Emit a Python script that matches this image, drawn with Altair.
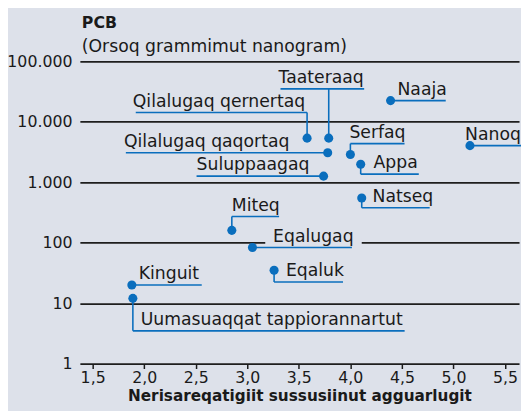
import altair as alt
import pandas as pd

# ---- data ----
names = ["Kinguit", "Uumasuaqqat tappiorannartut", "Eqaluk", "Miteq", "Eqalugaq",
         "Natseq", "Suluppaagaq", "Appa", "Serfaq", "Qilalugaq qaqortaq",
         "Qilalugaq qernertaq", "Taateraaq", "Naaja", "Nanoq"]
trophic = [1.88, 1.89, 3.26, 2.85, 3.05, 4.11, 3.74, 4.10, 4.00, 3.78, 3.58, 3.79, 4.39, 5.16]
pcb = [20, 12, 35, 160, 83, 550, 1260, 1980, 2880, 3070, 5360, 5360, 22400, 4030]

x_ticks = [1.5, 2.0, 2.5, 3.0, 3.5, 4.0, 4.5, 5.0, 5.5]
y_ticks = [1, 10, 100, 1000, 10000, 100000]

title_main = "PCB"
title_sub = "(Orsoq grammimut nanogram)"
x_title = "Nerisareqatigiit sussusiinut agguarlugit"

# ---- annotation layout (pixels relative to each point) ----
# (vertical leg, + = down; underline start; underline end; text left)
layout = {
    "Kinguit": (0, 0, 71, 7),
    "Uumasuaqqat tappiorannartut": (33, 0, 276, 8),
    "Eqaluk": (12, 0, 70, 12),
    "Miteq": (-14, 0, 48, 0),
    "Eqalugaq": (0, 0, 101, 21),
    "Natseq": (10, 0, 69, 11),
    "Suluppaagaq": (0, -129, 0, -129),
    "Appa": (10, 0, 59, 13),
    "Serfaq": (-11, 0, 55, -1),
    "Qilalugaq qaqortaq": (0, -205, 0, -207),
    "Qilalugaq qernertaq": (-26, -174, 0, -177),
    "Taateraaq": (-50, -49, 36, -51),
    "Naaja": (0, 0, 56, 7),
    "Nanoq": (0, 0, 52, -5),
}
knockout = {"Eqalugaq": (13, 111, -10, -3)}

W, H = 446, 307
X0, X1 = 1.376, 5.636
Y0, Y1 = 1, 100000
px_x = W / (X1 - X0)
px_dec = H / 5.0

def xo(x, d):
    return x + d / px_x

def yo(y, d):
    return y * 10 ** (-d / px_dec)

BG = "#dde1ea"
BLUE = "#0a6ebd"
INK = "#1a1a1a"
FONT = "DejaVu Sans"

pts = pd.DataFrame({"name": names, "x": trophic, "y": pcb})

vrows, hrows, trows, krows = [], [], [], []
for n, x, y in zip(names, trophic, pcb):
    v, u0, u1, tx = layout[n]
    ey = yo(y, v)
    if v != 0:
        vrows.append({"x": x, "y": y, "y2": ey})
    hrows.append({"x": xo(x, u0), "x2": xo(x, u1), "y": ey})
    trows.append({"x": xo(x, tx), "y": ey, "t": n})
    if n in knockout:
        a, b, c, d = knockout[n]
        krows.append({"x": xo(x, a), "x2": xo(x, b), "y": yo(ey, c), "y2": yo(ey, d)})

xs = alt.Scale(domain=[X0, X1], nice=False, zero=False)
ys = alt.Scale(type="log", domain=[Y0, Y1], nice=False)

x_axis = alt.Axis(values=x_ticks, labelExpr="replace(format(datum.value, '.1f'), '.', ',')",
                  domain=False, ticks=True, tickSize=5, tickWidth=1.5, tickColor=INK,
                  labelFontSize=16, labelFont=FONT, labelColor=INK, labelPadding=1,
                  labelFlush=False, grid=False, title=x_title, titleFontSize=15.5,
                  titleFont=FONT, titleFontWeight="bold", titleColor=INK, titlePadding=3)
y_axis = alt.Axis(values=y_ticks, labelExpr="replace(format(datum.value, ','), ',', '.')",
                  domain=False, ticks=False, labelPadding=8, labelFontSize=16,
                  labelFont=FONT, labelColor=INK, grid=True, gridColor="#1e1e1e",
                  gridWidth=1.8, title=None)

base_pts = alt.Chart(pts).mark_circle(size=85, color=BLUE, opacity=1).encode(
    x=alt.X("x:Q", scale=xs, axis=x_axis),
    y=alt.Y("y:Q", scale=ys, axis=y_axis),
)

knock = alt.Chart(pd.DataFrame(krows)).mark_rect(color=BG).encode(
    x=alt.X("x:Q", scale=xs), x2="x2:Q", y=alt.Y("y:Q", scale=ys), y2="y2:Q")

vlines = alt.Chart(pd.DataFrame(vrows)).mark_rule(color=BLUE, strokeWidth=1.6).encode(
    x=alt.X("x:Q", scale=xs), y=alt.Y("y:Q", scale=ys), y2="y2:Q")

hlines = alt.Chart(pd.DataFrame(hrows)).mark_rule(color=BLUE, strokeWidth=1.6).encode(
    x=alt.X("x:Q", scale=xs), x2="x2:Q", y=alt.Y("y:Q", scale=ys))

labels = alt.Chart(pd.DataFrame(trows)).mark_text(
    align="left", baseline="alphabetic", dy=-6, fontSize=17.5, font=FONT, color=INK
).encode(x=alt.X("x:Q", scale=xs), y=alt.Y("y:Q", scale=ys), text="t:N")

t1 = alt.Chart(pd.DataFrame({"t": [title_main]})).mark_text(
    align="left", baseline="alphabetic", fontSize=16, fontWeight="bold", font=FONT, color=INK
).encode(x=alt.value(2), y=alt.value(-34), text="t:N")
t2 = alt.Chart(pd.DataFrame({"t": [title_sub]})).mark_text(
    align="left", baseline="alphabetic", fontSize=17.5, font=FONT, color=INK
).encode(x=alt.value(2), y=alt.value(-9), text="t:N")

chart = alt.layer(knock, vlines, hlines, base_pts, labels, t1, t2).properties(
    width=W, height=H,
    autosize=alt.AutoSizeParams(type="none"),
    padding={"left": 73, "top": 51, "right": 2, "bottom": 45},
    background=BG,
).configure_view(stroke=None)

chart.save("out.html", embed_options={"renderer": "svg", "actions": False})
